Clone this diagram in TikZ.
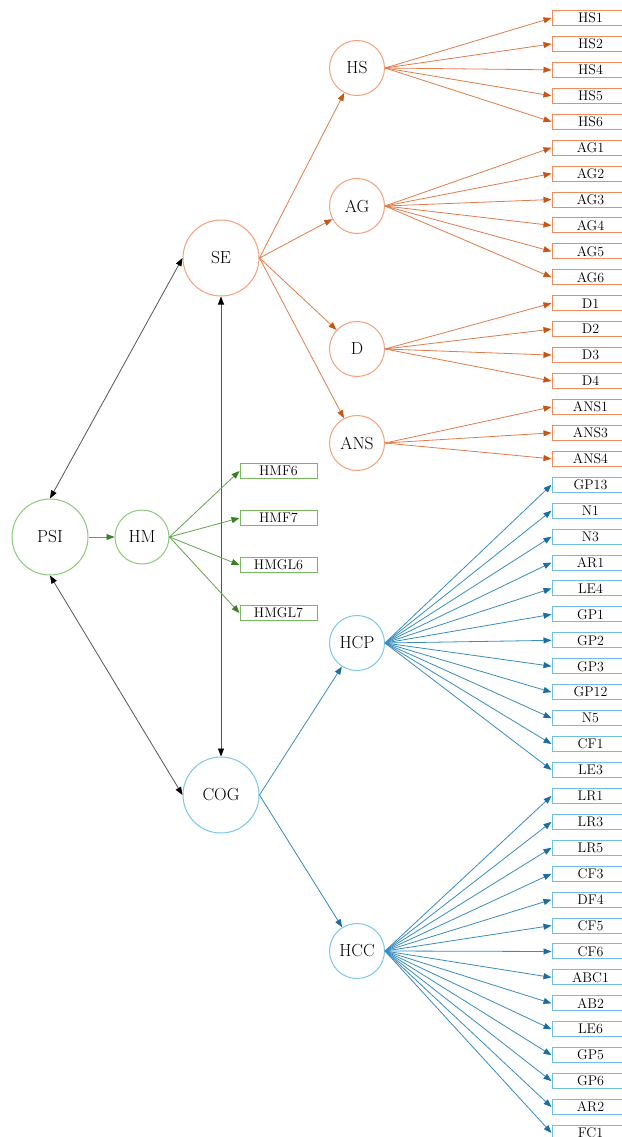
\documentclass[tikz,border=0pt]{standalone}
\usetikzlibrary{arrows.meta}

\definecolor{oCirc}{RGB}{244,160,122}
\definecolor{oBox}{RGB}{240,140,92}
\definecolor{oLine}{RGB}{222,124,76}
\definecolor{oTip}{RGB}{197,86,22}
\definecolor{bCirc}{RGB}{124,198,234}
\definecolor{bBox}{RGB}{110,190,232}
\definecolor{bLine}{RGB}{58,140,190}
\definecolor{bTip}{RGB}{26,110,160}
\definecolor{gCirc}{RGB}{140,201,124}
\definecolor{gBox}{RGB}{120,184,96}
\definecolor{gLine}{RGB}{100,160,80}
\definecolor{gTip}{RGB}{58,127,34}
\definecolor{kLine}{RGB}{85,85,85}

\tikzset{
  bigc/.style={circle, draw, line width=1pt, minimum size=76pt, inner sep=0pt, font=\fontsize{17.5}{17.5}\selectfont},
  smallc/.style={circle, draw, line width=1pt, minimum size=55pt, inner sep=0pt, font=\fontsize{17.5}{17.5}\selectfont},
  leaf/.style={rectangle, draw, line width=1pt, minimum width=77pt, minimum height=15pt, inner sep=0pt, font=\fontsize{14}{14}\selectfont},
  obox/.style={leaf, draw=oBox},
  bbox/.style={leaf, draw=bBox},
  gbox/.style={leaf, draw=gBox},
  oedge/.style={draw=oLine, line width=0.8pt, -{Triangle[length=8pt,width=6pt,color=oTip]}},
  bedge/.style={draw=bLine, line width=0.8pt, -{Triangle[length=8pt,width=6pt,color=bTip]}},
  gedge/.style={draw=gLine, line width=0.8pt, -{Triangle[length=8pt,width=6pt,color=gTip]}},
  kedge/.style={draw=kLine, line width=0.8pt, {Triangle[length=8pt,width=6pt,color=black]}-{Triangle[length=8pt,width=6pt,color=black]}},
}

% a group of indicator boxes in the right-hand column, each fed from its factor
\newcommand\leafgroup[4]{%
  \foreach \lab [count=\k from #2] in {#4} {
    \node[#3box] (\lab) at (590.5,{18+\k*25.93}) {\lab};
    \draw[#3edge] (#1.east) -- (\lab.west);
  }}

\begin{document}
\begin{tikzpicture}[x=1pt,y=-1pt]
  \fill[white] (0,0) rectangle (621,1137);
  \useasboundingbox (0,0) rectangle (621,1137);

  % main constructs
  \node[bigc, draw=gCirc] (PSI) at (50,537) {PSI};
  \node[smallc, draw=gCirc, minimum size=54pt] (HM) at (142,537) {HM};
  \node[bigc, draw=oCirc] (SE) at (221,258) {SE};
  \node[bigc, draw=bCirc] (COG) at (221,795) {COG};

  % first-order factors
  \node[smallc, draw=oCirc] (HS) at (357,68) {HS};
  \node[smallc, draw=oCirc] (AG) at (357,206) {AG};
  \node[smallc, draw=oCirc] (D) at (357,349) {D};
  \node[smallc, draw=oCirc] (ANS) at (357,443) {ANS};
  \node[smallc, draw=bCirc] (HCP) at (357,643) {HCP};
  \node[smallc, draw=bCirc] (HCC) at (357,951) {HCC};

  % correlations between the main constructs
  \draw[kedge] (PSI.north) -- (SE.west);
  \draw[kedge] (PSI.south) -- (COG.west);
  \draw[kedge] (SE.south) -- (COG.north);

  % HM and its items
  \draw[gedge] (PSI.east) -- (HM.west);
  \foreach \lab/\yy in {HMF6/471, HMF7/518, HMGL6/565, HMGL7/613} {
    \node[gbox] (\lab) at (278.5,\yy) {\lab};
    \draw[gedge] (HM.east) -- (\lab.west);
  }

  % second-order paths
  \foreach \f in {HS,AG,D,ANS} \draw[oedge] (SE.east) -- (\f);
  \foreach \f in {HCP,HCC} \draw[bedge] (COG.east) -- (\f);

  % indicator columns
  \leafgroup{HS}{0}{o}{HS1,HS2,HS4,HS5,HS6}
  \leafgroup{AG}{5}{o}{AG1,AG2,AG3,AG4,AG5,AG6}
  \leafgroup{D}{11}{o}{D1,D2,D3,D4}
  \leafgroup{ANS}{15}{o}{ANS1,ANS3,ANS4}
  \leafgroup{HCP}{18}{b}{GP13,N1,N3,AR1,LE4,GP1,GP2,GP3,GP12,N5,CF1,LE3}
  \leafgroup{HCC}{30}{b}{LR1,LR3,LR5,CF3,DF4,CF5,CF6,ABC1,AB2,LE6,GP5,GP6,AR2,FC1}
\end{tikzpicture}
\end{document}
